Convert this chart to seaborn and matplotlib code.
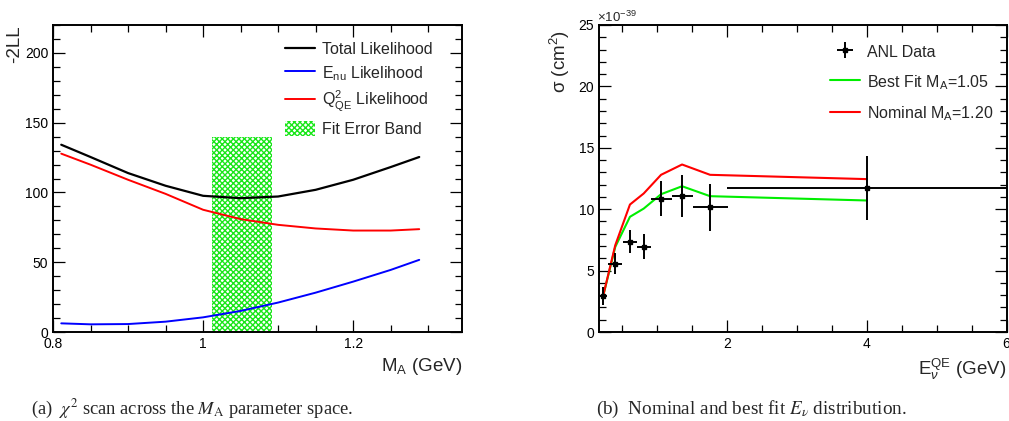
import numpy as np
import pandas as pd
import seaborn as sns
import matplotlib
matplotlib.use("Agg")
import matplotlib.pyplot as plt
from matplotlib.patches import Patch
from matplotlib.ticker import MultipleLocator, FixedLocator

# ---------------- data: panel (a) likelihood scan ----------------
scan_ma = [0.811, 0.85, 0.90, 0.95, 1.00, 1.05, 1.10, 1.15, 1.20, 1.25, 1.288]
total_ll = [134.2, 125.4, 113.9, 104.8, 97.6, 95.9, 97.1, 101.9, 109.1, 118.2, 125.4]
enu_ll = [6.2, 5.5, 5.7, 7.4, 10.5, 15.1, 21.1, 28.2, 36.1, 44.5, 51.7]
q2_ll = [127.8, 119.9, 109.1, 99.0, 87.6, 80.9, 76.8, 74.2, 72.7, 72.7, 73.7]
band_ma = [1.0125, 1.0915]
band_top = 140.0

# ---------------- data: panel (b) cross section ----------------
anl_e = [0.229, 0.40, 0.61, 0.807, 1.055, 1.356, 1.757, 4.0]
anl_xerr = [0.05, 0.10, 0.10, 0.10, 0.15, 0.15, 0.25, 2.0]
anl_sigma = [2.93, 5.57, 7.36, 6.96, 10.87, 11.06, 10.14, 11.74]
anl_yerr = [0.75, 0.85, 0.92, 0.98, 1.40, 1.70, 1.90, 2.60]
fit_sigma = [2.99, 6.93, 9.38, 10.05, 11.22, 11.87, 11.06, 10.71]
nom_sigma = [3.00, 7.07, 10.38, 11.28, 12.80, 13.64, 12.80, 12.45]

sns.set_theme(style="ticks")
plt.rcParams["font.family"] = ["Liberation Sans", "DejaVu Sans"]
plt.rcParams["mathtext.fontset"] = "custom"
plt.rcParams["mathtext.rm"] = "Liberation Sans"
plt.rcParams["mathtext.it"] = "Liberation Sans:italic"
plt.rcParams["mathtext.bf"] = "Liberation Sans:bold"
plt.rcParams["hatch.linewidth"] = 1.0

W, H = 1009, 421
fig = plt.figure(figsize=(W / 100, H / 100), dpi=100)
fig.patch.set_facecolor("white")

def fig_rect(x0, x1, ytop, ybot):
    return [x0 / W, 1 - ybot / H, (x1 - x0) / W, (ybot - ytop) / H]

ax1 = fig.add_axes(fig_rect(53, 462, 25, 332))
ax2 = fig.add_axes(fig_rect(599, 1006.5, 25, 332))

def style_axes(ax):
    ax.set_facecolor("white")
    for s in ax.spines.values():
        s.set_visible(True)
        s.set_linewidth(1.4)
        s.set_color("black")
    ax.tick_params(which="both", direction="in", top=True, right=True,
                   bottom=True, left=True, colors="black", width=0.9)
    ax.tick_params(which="major", length=8.5, labelsize=10, pad=3.5)
    ax.tick_params(which="minor", length=4.8)
    ax.grid(False)

# ---------------- panel (a) ----------------
style_axes(ax1)
ax1.fill_between(band_ma, 0, band_top, facecolor="white", edgecolor="#19e619",
                 hatch="xxxxxx", linewidth=0.0, zorder=1)
df_a = pd.DataFrame({"ma": scan_ma, "tot": total_ll, "enu": enu_ll, "q2": q2_ll})
sns.lineplot(data=df_a, x="ma", y="tot", ax=ax1, color="black", lw=1.6, zorder=3)
sns.lineplot(data=df_a, x="ma", y="enu", ax=ax1, color="#0000ff", lw=1.4, zorder=3)
sns.lineplot(data=df_a, x="ma", y="q2", ax=ax1, color="#ff0000", lw=1.4, zorder=3)
ax1.set_xlim(0.8, 1.345)
ax1.set_ylim(0, 220)
ax1.xaxis.set_major_locator(FixedLocator([0.8, 1.0, 1.2]))
ax1.set_xticklabels(["0.8", "1", "1.2"])
ax1.xaxis.set_minor_locator(MultipleLocator(0.05))
ax1.yaxis.set_major_locator(MultipleLocator(50))
ax1.yaxis.set_minor_locator(MultipleLocator(10))
ax1.set_xlabel("M$_{\\mathrm{A}}$ (GeV)", fontsize=13.5, ha="right")
ax1.xaxis.set_label_coords(1.0, -0.078)
ax1.set_ylabel("-2LL", fontsize=13.5, ha="right")
ax1.yaxis.set_label_coords(-0.073, 1.0)

h_a = [
    plt.Line2D([], [], color="black", lw=1.6),
    plt.Line2D([], [], color="#0000ff", lw=1.4),
    plt.Line2D([], [], color="#ff0000", lw=1.4),
    Patch(facecolor="white", edgecolor="#19e619", hatch="xxxxxx", linewidth=0.0),
]
l_a = ["Total Likelihood", "E$_{\\mathrm{nu}}$ Likelihood",
       "Q$^{2}_{\\mathrm{QE}}$ Likelihood", "Fit Error Band"]
ax1.legend(h_a, l_a, loc="upper left", bbox_to_anchor=(285 / W, 1 - 41 / H),
           bbox_transform=fig.transFigure, frameon=False, fontsize=11.5,
           handlelength=1.85, handleheight=1.1, handletextpad=0.45,
           labelspacing=0.42, borderpad=0, borderaxespad=0)

# ---------------- panel (b) ----------------
style_axes(ax2)
df_b = pd.DataFrame({"e": anl_e, "fit": fit_sigma, "nom": nom_sigma})
sns.lineplot(data=df_b, x="e", y="fit", ax=ax2, color="#00ee00", lw=1.5, zorder=2)
sns.lineplot(data=df_b, x="e", y="nom", ax=ax2, color="#ff0000", lw=1.5, zorder=2)
eb = ax2.errorbar(anl_e, anl_sigma, xerr=anl_xerr, yerr=anl_yerr, fmt="s",
                  color="black", ms=3, elinewidth=1.4, capsize=0, zorder=3)
ax2.set_xlim(0.167, 6.0)
ax2.set_ylim(0, 25)
ax2.xaxis.set_major_locator(FixedLocator([2, 4, 6]))
ax2.xaxis.set_minor_locator(MultipleLocator(0.5))
ax2.yaxis.set_major_locator(MultipleLocator(5))
ax2.yaxis.set_minor_locator(MultipleLocator(1))
ax2.set_xlabel("E$_{\\nu}^{\\mathrm{QE}}$ (GeV)", fontsize=13.5, ha="right")
ax2.xaxis.set_label_coords(1.0, -0.08)
ax2.set_ylabel("\u03c3 (cm$^{2}$)", fontsize=13.5, ha="right")
ax2.yaxis.set_label_coords(-0.066, 0.985)
ax2.text(-0.005, 1.0, "\u00d710$^{-39}$", transform=ax2.transAxes,
         fontsize=9.5, ha="left", va="bottom")

h_b = [eb, plt.Line2D([], [], color="#00ee00", lw=1.5),
       plt.Line2D([], [], color="#ff0000", lw=1.5)]
l_b = ["ANL Data", "Best Fit M$_{\\mathrm{A}}$=1.05", "Nominal M$_{\\mathrm{A}}$=1.20"]
ax2.legend(h_b, l_b, loc="upper left", bbox_to_anchor=(830 / W, 1 - 43 / H),
           bbox_transform=fig.transFigure, frameon=False, fontsize=11.5,
           handlelength=1.85, handleheight=1.3, handletextpad=0.45,
           labelspacing=0.8, borderpad=0, borderaxespad=0)

# ---------------- captions ----------------
fig.text(192 / W, 1 - 409 / H,
         "(a)  $\\chi^2$ scan across the $M_{\\mathrm{A}}$ parameter space.",
         family="Liberation Serif", math_fontfamily="stix", fontsize=13.3,
         ha="center", va="center")
fig.text(751 / W, 1 - 409 / H,
         "(b)  Nominal and best fit $E_{\\nu}$ distribution.",
         family="Liberation Serif", math_fontfamily="stix", fontsize=13.8,
         ha="center", va="center")

fig.savefig("out.png", dpi=100, facecolor="white")
